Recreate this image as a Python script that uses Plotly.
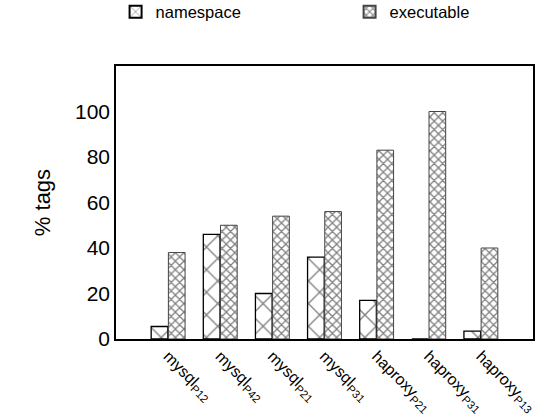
import plotly.graph_objects as go

categories = ["mysql<sub>P12</sub>", "mysql<sub>P42</sub>", "mysql<sub>P21</sub>", "mysql<sub>P31</sub>",
              "haproxy<sub>P21</sub>", "haproxy<sub>P31</sub>", "haproxy<sub>P13</sub>"]
namespace = [5.5, 46, 20, 36, 17, 0, 3.5]
executable = [38, 50, 54, 56, 83, 100, 40]
y_ticks = [0, 20, 40, 60, 80, 100]

FONT = "Liberation Sans, Arial, Helvetica, sans-serif"

fig = go.Figure()
fig.add_trace(go.Bar(
    name="namespace", x=categories, y=namespace,
    marker=dict(color="white", line=dict(color="black", width=1.3),
                pattern=dict(shape="x", size=16, solidity=0.16, fgcolor="black", bgcolor="white")),
))
fig.add_trace(go.Bar(
    name="executable", x=categories, y=executable,
    marker=dict(color="white", line=dict(color="#444444", width=1),
                pattern=dict(shape="x", size=6, solidity=0.38, fgcolor="black", bgcolor="white")),
))

fig.update_layout(
    width=552, height=417,
    margin=dict(l=116, r=19, t=66, b=78, autoexpand=False),
    plot_bgcolor="white", paper_bgcolor="white",
    barmode="group", bargap=0.34, bargroupgap=0.03,
    font=dict(family=FONT, size=18, color="black"),
    showlegend=True,
    legend=dict(orientation="h", x=-0.001, y=1.198, xanchor="left", yanchor="middle",
                font=dict(size=16.5), entrywidth=189, entrywidthmode="pixels",
                bgcolor="rgba(0,0,0,0)", itemsizing="constant"),
    xaxis=dict(
        range=[-1, 7], showline=True, linecolor="black", linewidth=1.5, mirror=True,
        ticks="", tickangle=45, tickfont=dict(size=16), showgrid=False, automargin=False,
    ),
    yaxis=dict(
        range=[0, 120], tickvals=y_ticks, showline=True, linecolor="black", linewidth=1.5,
        mirror=True, ticks="", showgrid=False, zeroline=False, automargin=False,
        title=dict(text="% tags", font=dict(size=22), standoff=18),
        tickfont=dict(size=21),
    ),
)

fig.write_html("out.html")
